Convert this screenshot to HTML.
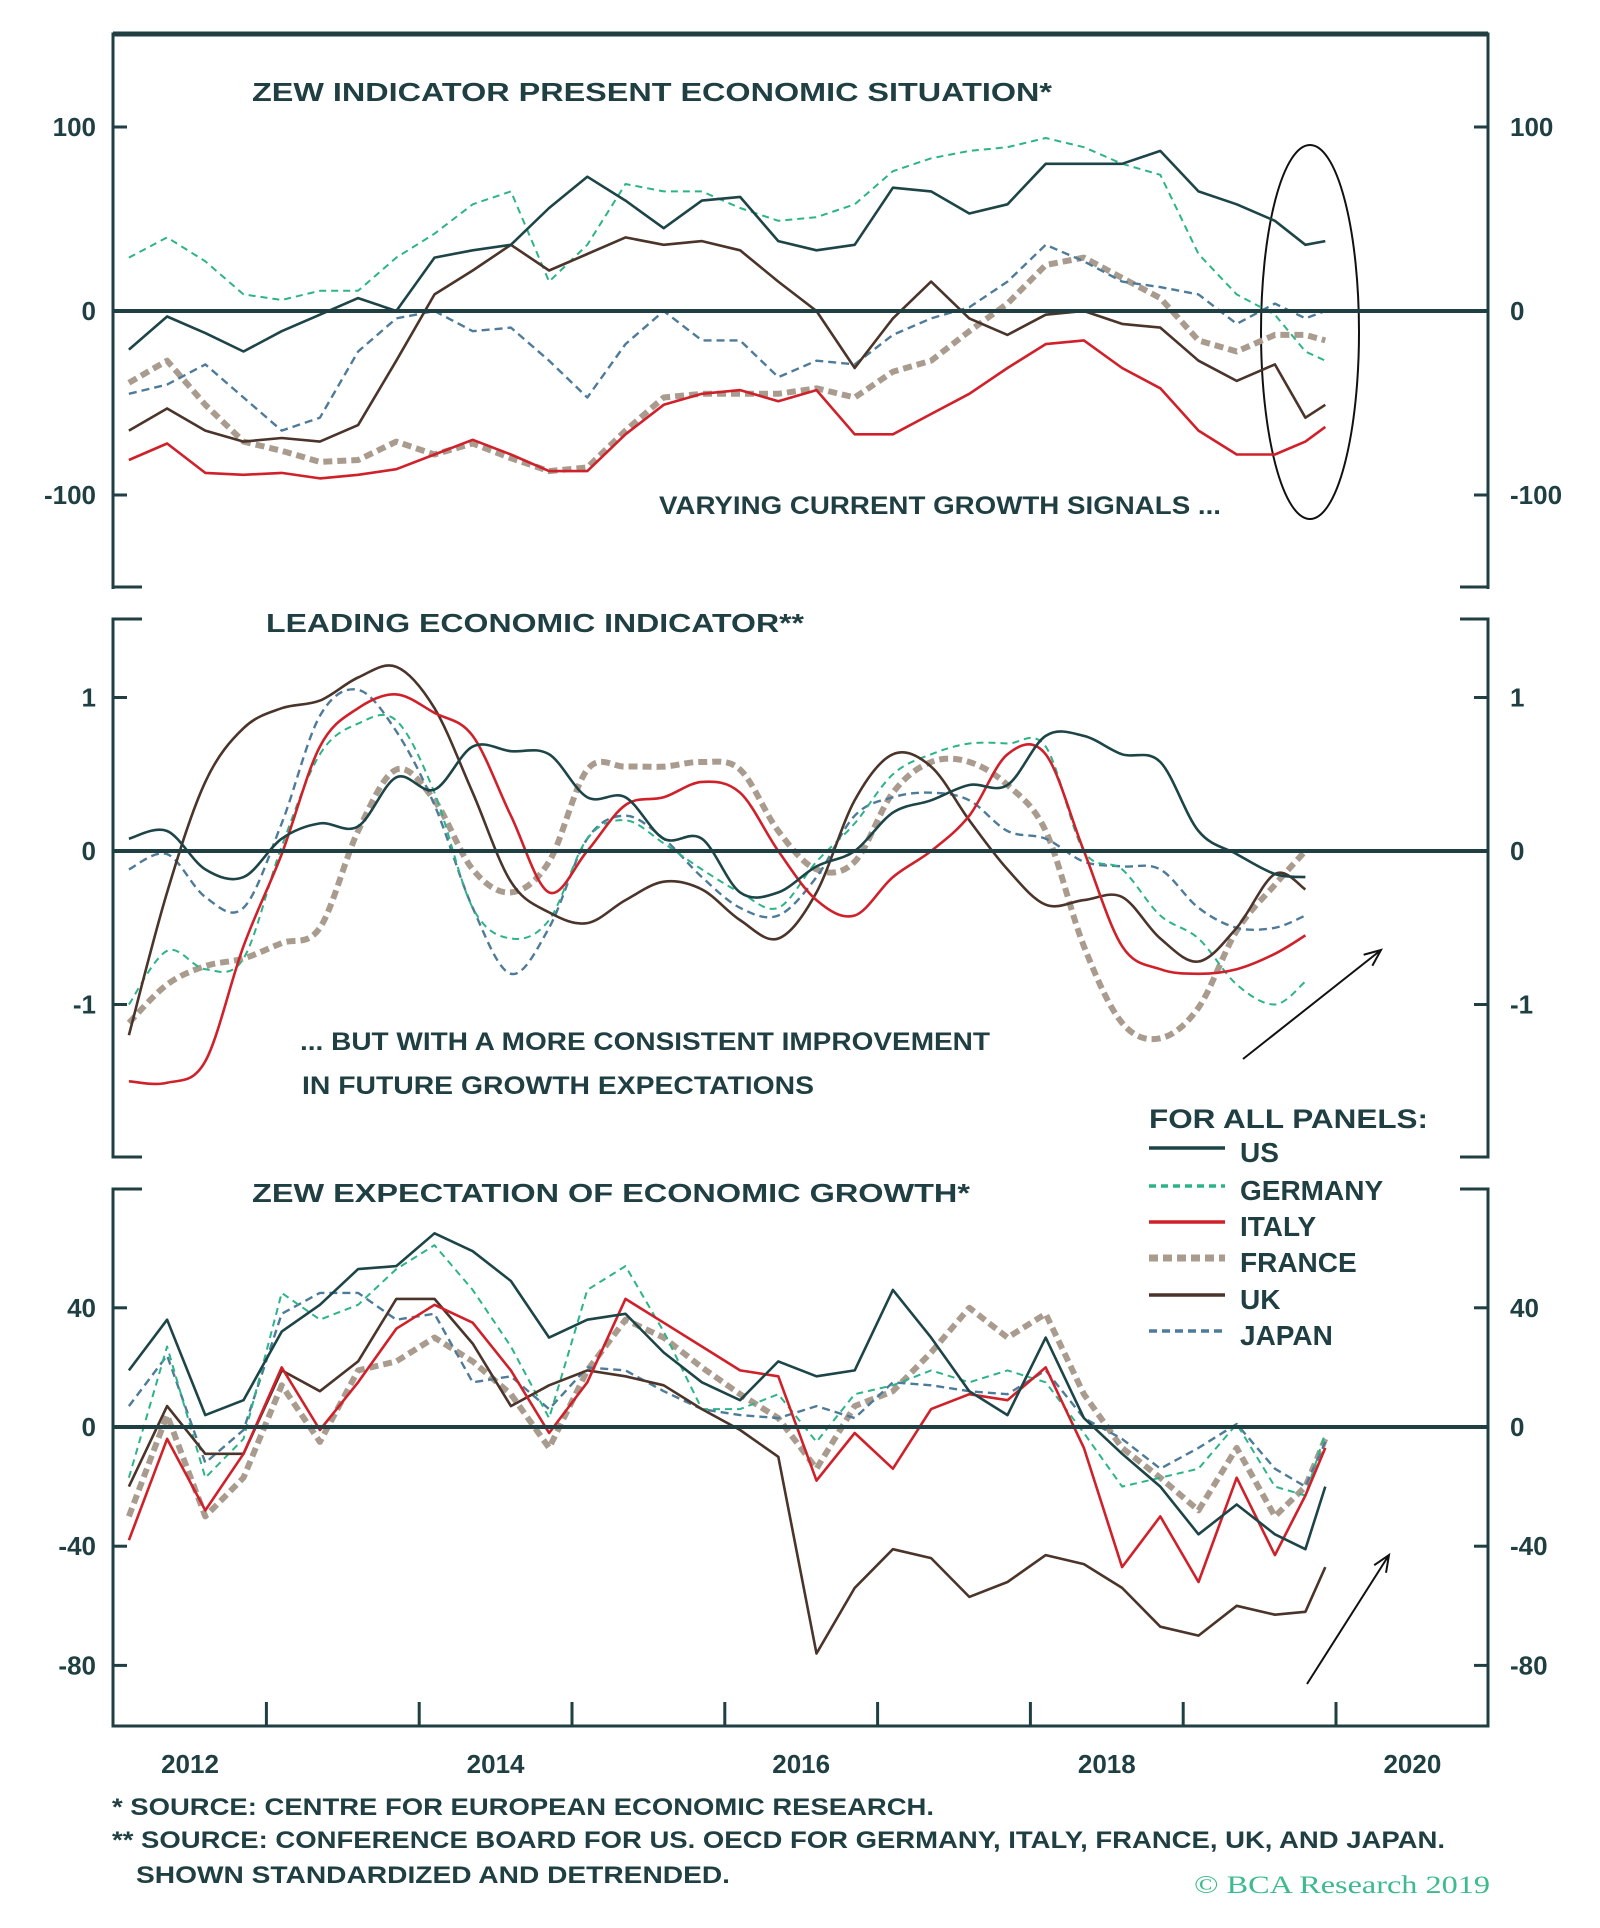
<!DOCTYPE html>
<html><head><meta charset="utf-8"><style>
html,body{margin:0;padding:0;background:#fff}
svg{display:block}
text{font-family:"Liberation Sans",sans-serif;font-weight:bold;fill:#1f3f42}
</style></head><body>
<svg id="chart" width="1600" height="1928" viewBox="0 0 1600 1928" xmlns="http://www.w3.org/2000/svg">
<g id="frames" stroke="#1f3f42" fill="none" stroke-width="3">
 <path d="M113 589 V34 H1488 V589" />
 <line x1="113" y1="34" x2="1488" y2="34" stroke-width="5"/>
 <path d="M113 587 H142"/>
 <path d="M1460 587 H1488"/>
 <path d="M142 619 H113 V1157 H142"/>
 <path d="M1460 619 H1488 V1157 H1460"/>
 <path d="M142 1189 H113 V1726 H1488 V1189 H1460"/>
</g>
<g id="labels">
 <text x="252" y="101" font-size="26" textLength="800" lengthAdjust="spacingAndGlyphs">ZEW INDICATOR PRESENT ECONOMIC SITUATION*</text>
 <text x="266" y="632" font-size="26" textLength="538" lengthAdjust="spacingAndGlyphs">LEADING ECONOMIC INDICATOR**</text>
 <text x="252" y="1202" font-size="26" textLength="718" lengthAdjust="spacingAndGlyphs">ZEW EXPECTATION OF ECONOMIC GROWTH*</text>
 <text x="659" y="514" font-size="25" textLength="562" lengthAdjust="spacingAndGlyphs" fill="#111">VARYING CURRENT GROWTH SIGNALS ...</text>
 <text x="300" y="1050" font-size="25" textLength="690" lengthAdjust="spacingAndGlyphs" fill="#111">... BUT WITH A MORE CONSISTENT IMPROVEMENT</text>
 <text x="302" y="1094" font-size="25" textLength="512" lengthAdjust="spacingAndGlyphs" fill="#111">IN FUTURE GROWTH EXPECTATIONS</text>
 <text x="112" y="1815" font-size="24" textLength="822" lengthAdjust="spacingAndGlyphs">*  SOURCE: CENTRE FOR EUROPEAN ECONOMIC RESEARCH.</text>
 <text x="112" y="1848" font-size="24" textLength="1333" lengthAdjust="spacingAndGlyphs">** SOURCE: CONFERENCE BOARD FOR US. OECD FOR GERMANY, ITALY, FRANCE, UK, AND JAPAN.</text>
 <text x="136" y="1883" font-size="24" textLength="594" lengthAdjust="spacingAndGlyphs">SHOWN STANDARDIZED AND DETRENDED.</text>
 <text x="1194" y="1893" font-size="25" textLength="296" lengthAdjust="spacingAndGlyphs" style="font-family:'Liberation Serif',serif;font-weight:normal;fill:#3dbb8c">© BCA Research 2019</text>
</g>
<ellipse cx="1310" cy="332" rx="49" ry="187" fill="none" stroke="#111" stroke-width="2"/>
<g id="series"></g>
<g id="axes"></g>
<g id="legend"></g>
</svg>
<script>
const dates = [2011.6,2011.85,2012.1,2012.35,2012.6,2012.85,2013.1,2013.35,2013.6,2013.85,2014.1,2014.35,2014.6,2014.85,2015.1,2015.35,2015.6,2015.85,2016.1,2016.35,2016.6,2016.85,2017.1,2017.35,2017.6,2017.85,2018.1,2018.35,2018.6,2018.85,2019.1,2019.3,2019.43];
const yearLabels = ['2012','2014','2016','2018','2020'];
const topTicks = [100,0,-100];
const midTicks = [1,0,-1];
const botTicks = [40,0,-40,-80];
const countries = ['US','GERMANY','ITALY','FRANCE','UK','JAPAN'];
const topUS = [-21,-3,-12,-22,-11,-2,7,0,29,33,36,56,73,60,45,60,62,38,33,36,67,65,53,58,80,80,80,87,65,58,49,36,38];
const topDE = [29,40,27,9,6,11,11,29,42,58,65,16,36,69,65,65,56,49,51,58,76,83,87,89,94,89,80,74,31,9,-2,-22,-27];
const topIT = [-81,-72,-88,-89,-88,-91,-89,-86,-78,-70,-78,-87,-87,-67,-51,-45,-43,-49,-43,-67,-67,-56,-45,-31,-18,-16,-31,-42,-65,-78,-78,-71,-63];
const topFR = [-39,-27,-51,-71,-76,-82,-81,-71,-78,-72,-80,-87,-85,-65,-47,-45,-45,-45,-42,-47,-33,-27,-11,4,25,29,18,7,-16,-22,-13,-13,-16];
const topUK = [-65,-53,-65,-71,-69,-71,-62,-27,9,22,36,22,31,40,36,38,33,16,0,-31,-4,16,-4,-13,-2,0,-7,-9,-27,-38,-29,-58,-51];
const topJP = [-45,-40,-29,-47,-65,-58,-22,-4,0,-11,-9,-27,-47,-18,0,-16,-16,-36,-27,-29,-13,-4,2,16,36,27,16,13,9,-7,4,-4,0];
const midUS = [0.08,0.13,-0.12,-0.17,0.08,0.18,0.16,0.48,0.4,0.68,0.65,0.63,0.35,0.35,0.08,0.08,-0.27,-0.27,-0.1,0,0.25,0.33,0.43,0.43,0.75,0.75,0.63,0.58,0.13,-0.02,-0.15,-0.17];
const midDE = [-1.0,-0.65,-0.77,-0.7,0.03,0.63,0.83,0.85,0.38,-0.37,-0.57,-0.45,0.08,0.2,0.05,-0.12,-0.27,-0.37,-0.07,0.18,0.5,0.63,0.7,0.7,0.68,0,-0.12,-0.42,-0.57,-0.87,-1.0,-0.85];
const midIT = [-1.5,-1.51,-1.37,-0.62,-0.02,0.68,0.93,1.02,0.9,0.75,0.23,-0.27,0,0.3,0.35,0.45,0.38,0,-0.32,-0.42,-0.17,0,0.23,0.63,0.63,0,-0.62,-0.77,-0.8,-0.77,-0.67,-0.55];
const midFR = [-1.12,-0.87,-0.75,-0.7,-0.6,-0.5,0.13,0.53,0.33,-0.12,-0.27,-0.07,0.53,0.55,0.55,0.58,0.53,0.13,-0.12,-0.07,0.38,0.58,0.58,0.43,0.13,-0.62,-1.12,-1.22,-1.02,-0.52,-0.22,0];
const midUK = [-1.2,-0.27,0.45,0.8,0.93,0.98,1.13,1.2,0.93,0.38,-0.2,-0.4,-0.47,-0.32,-0.2,-0.25,-0.45,-0.57,-0.27,0.33,0.63,0.55,0.2,-0.12,-0.35,-0.32,-0.3,-0.57,-0.72,-0.5,-0.15,-0.25];
const midJP = [-0.12,-0.02,-0.3,-0.37,0.18,0.88,1.05,0.78,0.3,-0.37,-0.8,-0.5,0.08,0.23,0.08,-0.17,-0.37,-0.42,-0.17,0.23,0.35,0.38,0.33,0.13,0.08,-0.07,-0.1,-0.12,-0.37,-0.5,-0.5,-0.42];
const botUS = [19,36,4,9,32,41,53,54,65,59,49,30,36,38,25,15,9,22,17,19,46,30,12,4,30,3,-9,-20,-36,-26,-36,-41,-20];
const botDE = [-17,27,-17,-4,45,36,41,53,61,46,27,3,46,54,32,6,6,11,-5,11,14,19,15,19,15,-2,-20,-17,-14,1,-20,-23,-2];
const botIT = [-38,-4,-28,-9,20,-1,15,33,41,35,19,-2,15,43,35,27,19,17,-18,-2,-14,6,11,9,20,-7,-47,-30,-52,-17,-43,-23,-7];
const botFR = [-30,4,-30,-17,14,-5,19,22,30,22,11,-7,19,36,30,20,11,3,-14,7,12,25,40,30,38,11,-7,-17,-28,-7,-30,-20,-4];
const botUK = [-20,7,-9,-9,19,12,22,43,43,28,7,14,19,17,14,6,-1,-10,-76,-54,-41,-44,-57,-52,-43,-46,-54,-67,-70,-60,-63,-62,-47];
const botJP = [7,24,-12,-1,38,45,45,36,38,15,17,6,20,19,12,6,4,3,7,3,15,14,12,11,19,3,-4,-14,-7,1,-14,-20,-5];

const NS='http://www.w3.org/2000/svg';
const xOf = t => 190 + (t-2012)*152.8;
const yTop = v => 311 - v*1.84;
const yMid = v => 851 - v*153.5;
const yBot = v => 1427 - v*2.98;
const styles = {
 US:{c:'#1d4548',w:2.6,d:''},
 GERMANY:{c:'#2cb488',w:2,d:'7 5'},
 ITALY:{c:'#d0202a',w:2.6,d:''},
 FRANCE:{c:'#a99c8f',w:6,d:'9 5'},
 UK:{c:'#4b3429',w:2.6,d:''},
 JAPAN:{c:'#4e7b99',w:2.4,d:'8 5'}
};
const panels = [
 {name:'top',y:yTop,data:[topUS,topDE,topIT,topFR,topUK,topJP],ticks:topTicks,smooth:false},
 {name:'middle',y:yMid,data:[midUS,midDE,midIT,midFR,midUK,midJP],ticks:midTicks,smooth:true},
 {name:'bottom',y:yBot,data:[botUS,botDE,botIT,botFR,botUK,botJP],ticks:botTicks,smooth:false}
];
function linePath(pts){return pts.map((p,k)=>(k?'L':'M')+p[0].toFixed(1)+' '+p[1].toFixed(1)).join(' ');}
function smoothPath(pts){
 let d='M'+pts[0][0].toFixed(1)+' '+pts[0][1].toFixed(1);
 for(let i=0;i<pts.length-1;i++){
  const p0=pts[i-1]||pts[i],p1=pts[i],p2=pts[i+1],p3=pts[i+2]||p2;
  const c1=[p1[0]+(p2[0]-p0[0])/6,p1[1]+(p2[1]-p0[1])/6];
  const c2=[p2[0]-(p3[0]-p1[0])/6,p2[1]-(p3[1]-p1[1])/6];
  d+=` C${c1[0].toFixed(1)} ${c1[1].toFixed(1)} ${c2[0].toFixed(1)} ${c2[1].toFixed(1)} ${p2[0].toFixed(1)} ${p2[1].toFixed(1)}`;
 }
 return d;
}
const sg=document.getElementById('series');
const ag=document.getElementById('axes');
const order=[3,5,1,4,2,0];
panels.forEach(p=>{
 order.forEach(i=>{
  const vals=p.data[i];const st=styles[countries[i]];
  const pts=vals.map((v,k)=>[xOf(dates[k]),p.y(v)]);
  const path=document.createElementNS(NS,'path');
  path.setAttribute('d',p.smooth?smoothPath(pts):linePath(pts));path.setAttribute('fill','none');
  path.setAttribute('stroke',st.c);path.setAttribute('stroke-width',st.w);
  path.setAttribute('stroke-linejoin','round');
  if(st.d)path.setAttribute('stroke-dasharray',st.d);
  
  
  sg.appendChild(path);
 });
 const z=document.createElementNS(NS,'line');
 z.setAttribute('x1',113);z.setAttribute('x2',1488);z.setAttribute('y1',p.y(0));z.setAttribute('y2',p.y(0));
 z.setAttribute('stroke','#1f3f42');z.setAttribute('stroke-width',4);
 
 
 ag.appendChild(z);
 p.ticks.forEach(v=>{
  const y=p.y(v);
  [[113,127],[1474,1488]].forEach(xx=>{
   const t=document.createElementNS(NS,'line');
   t.setAttribute('x1',xx[0]);t.setAttribute('x2',xx[1]);t.setAttribute('y1',y);t.setAttribute('y2',y);
   t.setAttribute('stroke','#1f3f42');t.setAttribute('stroke-width',3);
   
   
   ag.appendChild(t);
  });
  const l=document.createElementNS(NS,'text');
  l.setAttribute('x',96);l.setAttribute('y',y+9);l.setAttribute('text-anchor','end');l.setAttribute('font-size',26);
  l.textContent=String(v);
  
  
  ag.appendChild(l);
  const r=document.createElementNS(NS,'text');
  r.setAttribute('x',1510);r.setAttribute('y',y+9);r.setAttribute('font-size',26);
  r.textContent=String(v);
  
  
  ag.appendChild(r);
 });
});
for(let yr=2012;yr<=2019;yr++){
 const x=xOf(yr+0.5);
 const t=document.createElementNS(NS,'line');
 t.setAttribute('x1',x);t.setAttribute('x2',x);t.setAttribute('y1',1702);t.setAttribute('y2',1726);
 t.setAttribute('stroke','#1f3f42');t.setAttribute('stroke-width',3);
 
 
 ag.appendChild(t);
}
yearLabels.forEach(s=>{
 const l=document.createElementNS(NS,'text');
 l.setAttribute('x',xOf(+s));l.setAttribute('y',1773);l.setAttribute('text-anchor','middle');l.setAttribute('font-size',26);
 l.textContent=s;
 
 
 ag.appendChild(l);
});
const lg=document.getElementById('legend');
const lt=document.createElementNS(NS,'text');
lt.setAttribute('x',1149);lt.setAttribute('y',1128);lt.setAttribute('font-size',27);
lt.setAttribute('textLength',279);lt.setAttribute('lengthAdjust','spacingAndGlyphs');
lt.textContent='FOR ALL PANELS:';


lg.appendChild(lt);
const legY=[1153,1191,1227,1263,1300,1336];
countries.forEach((c,i)=>{
 const st=styles[c];
 const ln=document.createElementNS(NS,'line');
 ln.setAttribute('x1',1149);ln.setAttribute('x2',1225);ln.setAttribute('y1',legY[i]-5);ln.setAttribute('y2',legY[i]-5);
 ln.setAttribute('stroke',st.c);ln.setAttribute('stroke-width',c==='FRANCE'?7:3.5);
 if(st.d)ln.setAttribute('stroke-dasharray',st.d);
 
 
 lg.appendChild(ln);
 const tx=document.createElementNS(NS,'text');
 tx.setAttribute('x',1240);tx.setAttribute('y',legY[i]+9);tx.setAttribute('font-size',28);
 tx.textContent=c;
 
 
 lg.appendChild(tx);
});
[[1243,1059,1381,950],[1307,1684,1389,1555]].forEach((a,i)=>{
 const ln=document.createElementNS(NS,'path');
 const ang=Math.atan2(a[3]-a[1],a[2]-a[0]);
 const h=18,s=0.4;
 const p1=[a[2]-h*Math.cos(ang-s),a[3]-h*Math.sin(ang-s)];
 const p2=[a[2]-h*Math.cos(ang+s),a[3]-h*Math.sin(ang+s)];
 ln.setAttribute('d',`M${a[0]} ${a[1]} L${a[2]} ${a[3]} M${p1[0]} ${p1[1]} L${a[2]} ${a[3]} L${p2[0]} ${p2[1]}`);
 ln.setAttribute('stroke','#111');ln.setAttribute('stroke-width',2);ln.setAttribute('fill','none');
 
 
 lg.appendChild(ln);
});
</script>
</body></html>
